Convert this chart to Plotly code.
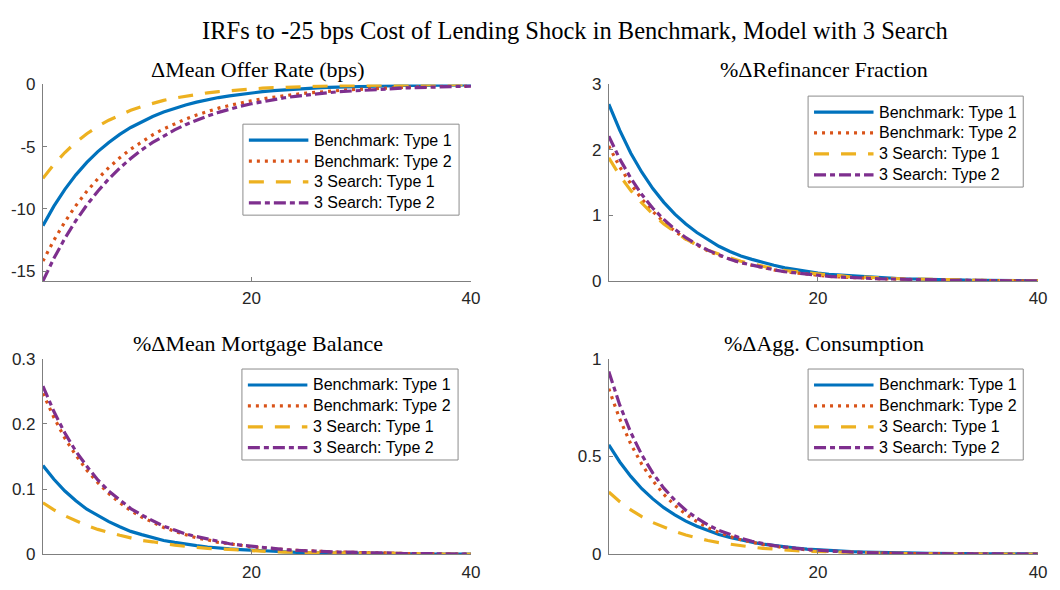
import plotly.graph_objects as go

# ---------------- data ----------------
periods = list(range(1, 41))

series_labels = ["Benchmark: Type 1", "Benchmark: Type 2", "3 Search: Type 1", "3 Search: Type 2"]

panel_titles = ["ΔMean Offer Rate (bps)", "%ΔRefinancer Fraction",
                "%ΔMean Mortgage Balance", "%ΔAgg. Consumption"]

main_title = "IRFs to -25 bps Cost of Lending Shock in Benchmark, Model with 3 Search"

offer_bench_t1 = [-11.35, -9.78, -8.43, -7.27, -6.27, -5.40, -4.66, -4.01, -3.46, -2.98, -2.57, -2.22, -1.91, -1.65, -1.42, -1.22, -1.05, -0.91, -0.78, -0.68,
                  -0.58, -0.50, -0.43, -0.37, -0.32, -0.28, -0.24, -0.21, -0.18, -0.15, -0.13, -0.11, -0.10, -0.08, -0.07, -0.06, -0.05, -0.05, -0.04, -0.03]
offer_bench_t2 = [-14.20, -12.52, -11.05, -9.74, -8.59, -7.58, -6.69, -5.90, -5.20, -4.59, -4.05, -3.57, -3.15, -2.78, -2.45, -2.16, -1.90, -1.68, -1.48, -1.31,
                  -1.15, -1.02, -0.90, -0.79, -0.70, -0.61, -0.54, -0.48, -0.42, -0.37, -0.33, -0.29, -0.26, -0.23, -0.20, -0.17, -0.15, -0.14, -0.12, -0.11]
offer_search_t1 = [-7.55, -6.43, -5.47, -4.65, -3.96, -3.37, -2.87, -2.44, -2.08, -1.77, -1.50, -1.28, -1.09, -0.93, -0.79, -0.67, -0.57, -0.49, -0.41, -0.35,
                   -0.30, -0.26, -0.22, -0.18, -0.16, -0.13, -0.11, -0.10, -0.08, -0.07, -0.06, -0.05, -0.04, -0.04, -0.03, -0.03, -0.02, -0.02, -0.02, -0.01]
offer_search_t2 = [-15.80, -13.98, -12.37, -10.95, -9.69, -8.58, -7.59, -6.72, -5.95, -5.26, -4.66, -4.12, -3.65, -3.23, -2.86, -2.53, -2.24, -1.98, -1.75, -1.55,
                   -1.37, -1.22, -1.07, -0.95, -0.84, -0.74, -0.66, -0.58, -0.52, -0.46, -0.40, -0.36, -0.32, -0.28, -0.25, -0.22, -0.19, -0.17, -0.15, -0.13]

refi_bench_t1 = [2.70, 2.30, 1.95, 1.66, 1.41, 1.20, 1.02, 0.87, 0.74, 0.63, 0.53, 0.45, 0.38, 0.33, 0.28, 0.24, 0.20, 0.17, 0.14, 0.12,
                 0.10, 0.09, 0.08, 0.06, 0.05, 0.05, 0.04, 0.03, 0.03, 0.02, 0.02, 0.02, 0.01, 0.01, 0.01, 0.01, 0.01, 0.01, 0.01, 0.00]
refi_bench_t2 = [2.06, 1.74, 1.48, 1.25, 1.06, 0.90, 0.76, 0.64, 0.55, 0.46, 0.39, 0.33, 0.28, 0.24, 0.20, 0.17, 0.14, 0.12, 0.10, 0.09,
                 0.07, 0.06, 0.05, 0.05, 0.04, 0.03, 0.03, 0.02, 0.02, 0.02, 0.01, 0.01, 0.01, 0.01, 0.01, 0.01, 0.01, 0.00, 0.00, 0.00]
refi_search_t1 = [1.88, 1.61, 1.38, 1.19, 1.02, 0.87, 0.75, 0.64, 0.55, 0.47, 0.41, 0.35, 0.30, 0.26, 0.22, 0.19, 0.16, 0.14, 0.12, 0.10,
                  0.09, 0.08, 0.06, 0.06, 0.05, 0.04, 0.03, 0.03, 0.03, 0.02, 0.02, 0.02, 0.01, 0.01, 0.01, 0.01, 0.01, 0.01, 0.01, 0.00]
refi_search_t2 = [2.21, 1.86, 1.57, 1.32, 1.11, 0.94, 0.79, 0.66, 0.56, 0.47, 0.40, 0.33, 0.28, 0.24, 0.20, 0.17, 0.14, 0.12, 0.10, 0.08,
                  0.07, 0.06, 0.05, 0.04, 0.04, 0.03, 0.03, 0.02, 0.02, 0.02, 0.01, 0.01, 0.01, 0.01, 0.01, 0.01, 0.00, 0.00, 0.00, 0.00]

bal_bench_t1 = [0.136, 0.115, 0.097, 0.082, 0.069, 0.059, 0.050, 0.042, 0.035, 0.030, 0.025, 0.021, 0.018, 0.015, 0.013, 0.011, 0.009, 0.008, 0.007, 0.006,
                0.005, 0.004, 0.003, 0.003, 0.002, 0.002, 0.002, 0.001, 0.001, 0.001, 0.001, 0.001, 0.001, 0.001, 0.000, 0.000, 0.000, 0.000, 0.000, 0.000]
bal_bench_t2 = [0.247, 0.210, 0.178, 0.152, 0.129, 0.110, 0.093, 0.079, 0.067, 0.057, 0.049, 0.041, 0.035, 0.030, 0.025, 0.022, 0.018, 0.016, 0.013, 0.011,
                0.010, 0.008, 0.007, 0.006, 0.005, 0.004, 0.004, 0.003, 0.003, 0.002, 0.002, 0.002, 0.001, 0.001, 0.001, 0.001, 0.001, 0.001, 0.001, 0.000]
bal_search_t1 = [0.079, 0.068, 0.059, 0.051, 0.044, 0.038, 0.033, 0.029, 0.025, 0.021, 0.019, 0.016, 0.014, 0.012, 0.010, 0.009, 0.008, 0.007, 0.006, 0.005,
                 0.004, 0.004, 0.003, 0.003, 0.002, 0.002, 0.002, 0.002, 0.001, 0.001, 0.001, 0.001, 0.001, 0.001, 0.001, 0.000, 0.000, 0.000, 0.000, 0.000]
bal_search_t2 = [0.258, 0.219, 0.186, 0.158, 0.135, 0.114, 0.097, 0.083, 0.070, 0.060, 0.051, 0.043, 0.037, 0.031, 0.027, 0.023, 0.019, 0.016, 0.014, 0.012,
                 0.010, 0.008, 0.007, 0.006, 0.005, 0.004, 0.004, 0.003, 0.003, 0.002, 0.002, 0.002, 0.001, 0.001, 0.001, 0.001, 0.001, 0.001, 0.001, 0.000]

cons_bench_t1 = [0.560, 0.472, 0.398, 0.335, 0.283, 0.238, 0.201, 0.169, 0.143, 0.120, 0.101, 0.086, 0.072, 0.061, 0.051, 0.043, 0.036, 0.031, 0.026, 0.022,
                 0.018, 0.016, 0.013, 0.011, 0.009, 0.008, 0.007, 0.006, 0.005, 0.004, 0.003, 0.003, 0.002, 0.002, 0.002, 0.001, 0.001, 0.001, 0.001, 0.001]
cons_bench_t2 = [0.847, 0.691, 0.564, 0.460, 0.376, 0.306, 0.250, 0.204, 0.167, 0.136, 0.111, 0.090, 0.074, 0.060, 0.049, 0.040, 0.033, 0.027, 0.022, 0.018,
                 0.014, 0.012, 0.010, 0.008, 0.006, 0.005, 0.004, 0.003, 0.003, 0.002, 0.002, 0.002, 0.001, 0.001, 0.001, 0.001, 0.001, 0.001, 0.000, 0.000]
cons_search_t1 = [0.318, 0.269, 0.227, 0.192, 0.162, 0.137, 0.116, 0.098, 0.083, 0.070, 0.059, 0.050, 0.042, 0.036, 0.030, 0.025, 0.021, 0.018, 0.015, 0.013,
                  0.011, 0.009, 0.008, 0.007, 0.006, 0.005, 0.004, 0.003, 0.003, 0.002, 0.002, 0.002, 0.001, 0.001, 0.001, 0.001, 0.001, 0.001, 0.001, 0.000]
cons_search_t2 = [0.935, 0.763, 0.623, 0.508, 0.415, 0.338, 0.276, 0.225, 0.184, 0.150, 0.122, 0.100, 0.082, 0.066, 0.054, 0.044, 0.036, 0.029, 0.024, 0.020,
                  0.016, 0.013, 0.011, 0.009, 0.007, 0.006, 0.005, 0.004, 0.003, 0.003, 0.002, 0.002, 0.001, 0.001, 0.001, 0.001, 0.001, 0.001, 0.000, 0.000]

x_ticks = [20, 40]
y_ticks = [[-15, -10, -5, 0], [0, 1, 2, 3], [0, 0.1, 0.2, 0.3], [0, 0.5, 1]]
y_tick_text = [["-15", "-10", "-5", "0"], ["0", "1", "2", "3"], ["0", "0.1", "0.2", "0.3"], ["0", "0.5", "1"]]
y_ranges = [[-15.8, 0], [0, 3], [0, 0.3], [0, 1]]

panel_series = [
    [offer_bench_t1, offer_bench_t2, offer_search_t1, offer_search_t2],
    [refi_bench_t1, refi_bench_t2, refi_search_t1, refi_search_t2],
    [bal_bench_t1, bal_bench_t2, bal_search_t1, bal_search_t2],
    [cons_bench_t1, cons_bench_t2, cons_search_t1, cons_search_t2],
]

# ---------------- styles ----------------
W, H = 1060, 590
line_colors = ["#0072BD", "#D95319", "#EDB120", "#7E2F8E"]
line_dashes = ["solid", "3px,5px", "15px,12px", "12px,4px,5px,4px"]
line_width = 3.2
axis_color = "#7f7f7f"
tick_font = dict(family="Liberation Sans, Arial, sans-serif", size=17, color="#262626")
legend_font = dict(family="Liberation Sans, Arial, sans-serif", size=16, color="#000000")
serif = "Liberation Serif, Times New Roman, serif"

# axes placement in pixels: (left, right, top, bottom)
axes_px = [(43.3, 475, 78, 281), (614, 1047, 78, 281),
           (43.3, 475, 361.5, 563.3), (614, 1047, 361.5, 563.3)]
title_px = [(260, 63), (831, 63), (260, 345.5), (831, 345.5)]
# legend boxes in pixels: (left, right, top, bottom)
legend_px = [(245, 463, 119, 213), (815, 1032, 90, 184),
             (244, 462, 372, 466), (815, 1032, 372, 466)]


def px_x(v):
    return v / W


def px_y(v):
    return 1 - v / H


fig = go.Figure()
shapes = []
annotations = []

for i in range(4):
    sfx = "" if i == 0 else str(i + 1)
    xa, ya = "x" + sfx, "y" + sfx
    for j in range(4):
        fig.add_trace(go.Scatter(
            x=periods, y=panel_series[i][j], mode="lines", name=series_labels[j],
            xaxis=xa, yaxis=ya, showlegend=False,
            line=dict(color=line_colors[j], width=line_width, dash=line_dashes[j]),
        ))
    l, r, t, b = axes_px[i]
    common = dict(showline=True, linecolor=axis_color, linewidth=1, ticks="inside",
                  ticklen=4, tickcolor=axis_color, tickwidth=1, showgrid=False,
                  zeroline=False, tickfont=tick_font)
    fig.update_layout(**{
        "xaxis" + sfx: dict(domain=[px_x(l), px_x(r)], range=[1, 40], tickvals=x_ticks,
                            anchor=ya, ticklabelstandoff=2, **common),
        "yaxis" + sfx: dict(domain=[px_y(b), px_y(t)], range=y_ranges[i], tickvals=y_ticks[i],
                            ticktext=y_tick_text[i], anchor=xa, ticklabelstandoff=3, **common),
    })
    # subplot title
    annotations.append(dict(text=panel_titles[i], x=px_x(title_px[i][0]), y=px_y(title_px[i][1]),
                            xref="paper", yref="paper", xanchor="center", yanchor="middle",
                            showarrow=False, font=dict(family=serif, size=22, color="#000000")))
    # legend box
    lx0, lx1, ly0, ly1 = legend_px[i]
    shapes.append(dict(type="rect", xref="paper", yref="paper", layer="above",
                       x0=px_x(lx0), x1=px_x(lx1), y0=px_y(ly0), y1=px_y(ly1),
                       line=dict(color="#8c8c8c", width=1), fillcolor="white"))
    for j in range(4):
        ry = ly0 + 16.5 + 21.6 * j
        shapes.append(dict(type="line", xref="paper", yref="paper", layer="above",
                           x0=px_x(lx0 + 6), x1=px_x(lx0 + 66), y0=px_y(ry), y1=px_y(ry),
                           line=dict(color=line_colors[j], width=line_width, dash=line_dashes[j])))
        annotations.append(dict(text=series_labels[j], x=px_x(lx0 + 70), y=px_y(ry),
                                xref="paper", yref="paper", xanchor="left", yanchor="middle",
                                showarrow=False, font=legend_font))

annotations.append(dict(text=main_title, x=px_x(580), y=px_y(22.5), xref="paper", yref="paper",
                        xanchor="center", yanchor="middle", showarrow=False,
                        font=dict(family=serif, size=24.5, color="#000000")))

fig.update_layout(width=W, height=H, margin=dict(l=0, r=0, t=0, b=0),
                  paper_bgcolor="white", plot_bgcolor="white",
                  shapes=shapes, annotations=annotations, showlegend=False)

fig.write_html("out.html")
